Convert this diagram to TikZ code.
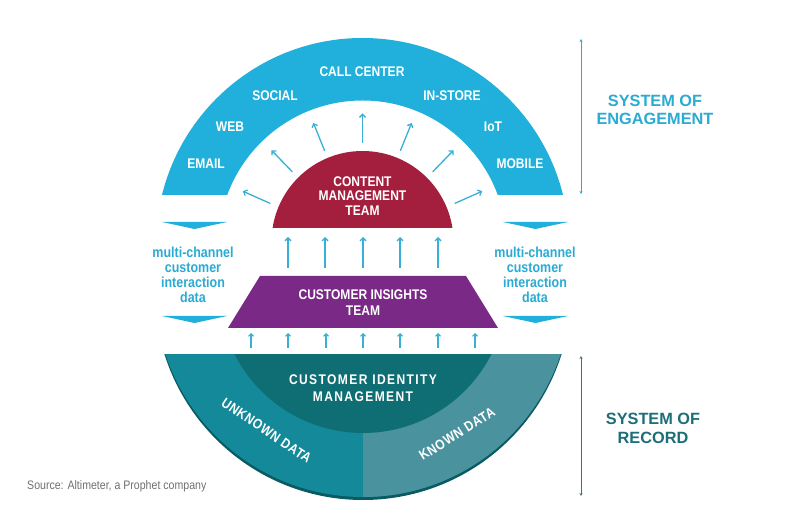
\documentclass[tikz,border=0pt]{standalone}
\usepackage{fontspec}
\setmainfont[FakeStretch=0.86]{Liberation Sans}
\newfontfamily\widefont{Liberation Sans}
\newfontfamily\spacedfont[FakeStretch=0.86,LetterSpace=10]{Liberation Sans}
\newfontfamily\lightspacedfont[FakeStretch=0.86,LetterSpace=4]{Liberation Sans}
\usetikzlibrary{arrows.meta}
\definecolor{cyanband}{HTML}{20B0DB}
\definecolor{arrowcyan}{HTML}{38AFD6}
\definecolor{labelcyan}{HTML}{2AABD3}
\definecolor{crimson}{HTML}{A41F3E}
\definecolor{purp}{HTML}{7A2A86}
\definecolor{tealA}{HTML}{13899A}
\definecolor{tealB}{HTML}{0E6E74}
\definecolor{tealC}{HTML}{4B929F}
\definecolor{tealEdge}{HTML}{0A5A62}
\definecolor{recordtext}{HTML}{1C6E78}
\definecolor{srcgray}{HTML}{707070}
\begin{document}
\begin{tikzpicture}[x=1pt,y=1pt,
  bandlabel/.style={text=white,font=\fontsize{14}{14}\selectfont\bfseries,inner sep=0},
  boxlabel/.style={text=white,align=center,inner sep=0},
  flow/.style={draw=arrowcyan,line width=1.3pt,-{Straight Barb[length=3pt,width=6pt]}},
  smallflow/.style={draw=arrowcyan,line width=1.1pt,-{Straight Barb[length=2.5pt,width=5pt]}},
  span/.style={line width=1pt,{Stealth[length=3pt,width=3pt]}-{Stealth[length=3pt,width=3pt]}},
  sidetext/.style={text=labelcyan,align=center,inner sep=0,font=\fontsize{14.5}{15}\selectfont\bfseries},
  chev/.style={fill=cyanband}
]
\useasboundingbox (0,0) rectangle (800,527);
\fill[white] (0,0) rectangle (800,527);

% ---------- top band (system of engagement)
\coordinate (topc) at (362.5,282.5);
\begin{scope}
  \clip (0,332) rectangle (800,527);
  \fill[cyanband,even odd rule] (topc) circle (206.5) (topc) circle (144);
\end{scope}

% ---------- content management dome
\begin{scope}
  \clip (0,299) rectangle (800,527);
  \fill[crimson] (362.5,285) circle (91);
\end{scope}
\node[boxlabel,font=\fontsize{14}{14.5}\selectfont\bfseries] (cmt) at (362.5,331) {CONTENT\\MANAGEMENT\\TEAM};

% radial arrows
\foreach \a [count=\i] in {24,46,68,90,112,134,156} {
  \coordinate (rs\i) at ([shift={(\a:101)}]topc);
  \coordinate (re\i) at ([shift={(\a:131)}]topc);
  \draw[flow] (rs\i) -- (re\i);
}

% channel labels
\node[bandlabel] (callc) at (362,455) {CALL CENTER};
\node[bandlabel] (social) at (275,431) {SOCIAL};
\node[bandlabel] (instore) at (452,431) {IN-STORE};
\node[bandlabel] (web) at (230,400) {WEB};
\node[bandlabel] (iot) at (493,400) {IoT};
\node[bandlabel] (email) at (206,363) {EMAIL};
\node[bandlabel] (mobile) at (520,363) {MOBILE};

% ---------- customer insights trapezoid
\fill[purp] (228,199) -- (498,199) -- (466,251) -- (260,251) -- cycle;
\node[boxlabel,font=\fontsize{14}{16}\selectfont\bfseries] (cit) at (363,224) {CUSTOMER INSIGHTS\\TEAM};

% arrows trapezoid -> dome
\foreach \x [count=\i] in {288,325,363,400,438} {
  \coordinate (ms\i) at (\x,259);
  \coordinate (me\i) at (\x,290);
  \draw[flow] (ms\i) -- (me\i);
}

% ---------- bottom half (system of record)
\coordinate (botc) at (363,238);
\begin{scope}
  \clip (0,0) rectangle (800,172);
  \fill[tealEdge] (363,235) circle (208);
  \fill[tealA] (botc) circle (208);
  \begin{scope}
    \clip (363,0) rectangle (800,172);
    \fill[tealC] (botc) circle (208);
  \end{scope}
  \fill[tealB] (botc) circle (144);
\end{scope}
\node[boxlabel,font=\spacedfont\fontsize{14}{17}\selectfont\bfseries] (cim) at (363,138.5) {CUSTOMER IDENTITY\\MANAGEMENT};
\node[text=white,inner sep=0,font=\lightspacedfont\fontsize{14}{14}\selectfont\bfseries,rotate=-34] (unk) at (266.5,96.5) {UNKNOWN DATA};
\node[text=white,inner sep=0,font=\lightspacedfont\fontsize{14}{14}\selectfont\bfseries,rotate=32] (kn) at (457,93) {KNOWN DATA};

% arrows teal -> trapezoid
\foreach \x [count=\i] in {251,288,326,363,400,438,475} {
  \coordinate (bs\i) at (\x,179);
  \coordinate (be\i) at (\x,194);
  \draw[smallflow] (bs\i) -- (be\i);
}

% ---------- side chevrons and texts
\fill[chev] (162,305) -- (227,305) -- (194.5,298) -- cycle;
\fill[chev] (162,211) -- (227,211) -- (194.5,204) -- cycle;
\fill[chev] (503,305) -- (568,305) -- (535.5,298) -- cycle;
\fill[chev] (503,211) -- (568,211) -- (535.5,204) -- cycle;
\node[sidetext] (mcl) at (193,252.5) {multi-channel\\customer\\interaction\\data};
\node[sidetext] (mcr) at (535,252.5) {multi-channel\\customer\\interaction\\data};

% ---------- right side spans and labels
\coordinate (et) at (581,488);
\coordinate (eb) at (581,333);
\draw[span,draw=labelcyan] (et) -- (eb);
\node[text=labelcyan,align=center,inner sep=0,font=\widefont\fontsize{16.3}{18}\selectfont\bfseries] (soe) at (655,417) {SYSTEM OF\\ENGAGEMENT};
\coordinate (rt) at (581,171);
\coordinate (rb) at (581,31);
\draw[span,draw=tealC!80!black] (rt) -- (rb);
\node[text=recordtext,align=center,inner sep=0,font=\widefont\fontsize{16.3}{19}\selectfont\bfseries] (sor) at (653,98.5) {SYSTEM OF\\RECORD};

% ---------- source
\node[anchor=west,text=srcgray,inner sep=0,font=\fontsize{12.3}{12.3}\selectfont] (src) at (27,41) {Source: Altimeter, a Prophet company};
\end{tikzpicture}
\end{document}
